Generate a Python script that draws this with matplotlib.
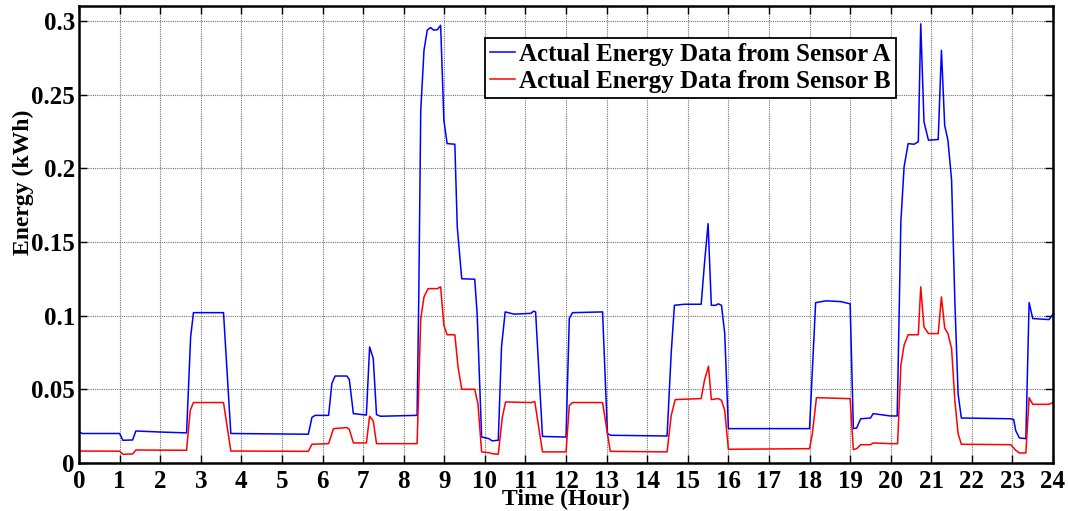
import matplotlib
matplotlib.use("Agg")
import matplotlib.pyplot as plt
import numpy as np

plt.rcParams['font.family'] = ['Liberation Serif', 'DejaVu Serif']
plt.rcParams['font.weight'] = 'bold'

# sensor A (blue), hour -> kWh
hours_a = [0, 0.08, 1.0, 1.08, 1.32, 1.4, 2.0, 2.65, 2.75, 2.82,
           3.56, 3.74, 5.65, 5.74, 5.82, 6.15, 6.23, 6.31, 6.6, 6.66,
           6.76, 7.08, 7.16, 7.25, 7.33, 7.43, 8.33, 8.37, 8.42, 8.5,
           8.58, 8.66, 8.74, 8.83, 8.91, 8.99, 9.07, 9.26, 9.32, 9.43,
           9.75, 9.81, 9.92, 10.1, 10.18, 10.33, 10.41, 10.5, 10.72, 11.13,
           11.2, 11.25, 11.42, 12.0, 12.08, 12.16, 12.9, 13.02, 13.1, 14.49,
           14.59, 14.67, 14.92, 15.33, 15.41, 15.5, 15.58, 15.69, 15.75, 15.83,
           15.91, 16.0, 18.0, 18.15, 18.4, 18.77, 19.0, 19.08, 19.16, 19.26,
           19.5, 19.57, 19.75, 19.99, 20.16, 20.25, 20.33, 20.43, 20.58, 20.68,
           20.74, 20.82, 20.93, 21.17, 21.25, 21.33, 21.41, 21.5, 21.58, 21.66,
           21.74, 22.96, 23.03, 23.08, 23.17, 23.33, 23.41, 23.5, 23.9, 24.0]
energy_a = [0.021, 0.020, 0.020, 0.0154, 0.0156, 0.0217, 0.0210, 0.0204, 0.0855, 0.102,
            0.102, 0.020, 0.0195, 0.031, 0.0323, 0.0323, 0.054, 0.059, 0.059, 0.0566,
            0.0335, 0.0325, 0.0787, 0.0708, 0.0328, 0.0317, 0.0323, 0.110, 0.239, 0.280,
            0.2937, 0.2955, 0.2937, 0.294, 0.297, 0.2326, 0.2167, 0.2163, 0.160, 0.125,
            0.1247, 0.101, 0.0176, 0.0165, 0.015, 0.0154, 0.0787, 0.1025, 0.101, 0.1015,
            0.103, 0.1025, 0.018, 0.0176, 0.098, 0.102, 0.1025, 0.020, 0.0188, 0.0183,
            0.074, 0.107, 0.1077, 0.1077, 0.135, 0.1624, 0.107, 0.107, 0.108, 0.107,
            0.088, 0.0233, 0.0233, 0.1088, 0.110, 0.1095, 0.108, 0.0233, 0.0237, 0.030,
            0.0305, 0.0335, 0.0328, 0.0319, 0.0319, 0.1636, 0.201, 0.2167, 0.2163, 0.218,
            0.298, 0.2315, 0.219, 0.2195, 0.280, 0.229, 0.219, 0.192, 0.110, 0.047,
            0.0305, 0.0300, 0.0295, 0.022, 0.017, 0.0165, 0.1088, 0.098, 0.0973, 0.101]

# sensor B (red)
hours_b = [0, 1.0, 1.08, 1.32, 1.4, 2.65, 2.74, 2.82, 3.56, 3.74,
           5.65, 5.74, 6.15, 6.27, 6.6, 6.66, 6.76, 7.08, 7.16, 7.25,
           7.33, 8.33, 8.42, 8.5, 8.6, 8.83, 8.91, 8.99, 9.07, 9.26,
           9.34, 9.43, 9.75, 9.83, 9.92, 10.1, 10.18, 10.33, 10.43, 10.51,
           11.13, 11.23, 11.42, 12.0, 12.08, 12.16, 12.9, 13.09, 14.49, 14.59,
           14.69, 15.33, 15.41, 15.51, 15.58, 15.75, 15.83, 15.91, 16.0, 18.0,
           18.07, 18.17, 18.93, 19.0, 19.08, 19.16, 19.26, 19.5, 19.57, 19.99,
           20.17, 20.25, 20.33, 20.43, 20.68, 20.74, 20.82, 20.93, 21.17, 21.25,
           21.33, 21.41, 21.5, 21.58, 21.66, 21.74, 22.96, 23.08, 23.17, 23.33,
           23.41, 23.5, 23.9, 24.0]
energy_b = [0.0081, 0.0080, 0.0059, 0.0061, 0.0088, 0.0086, 0.0357, 0.041, 0.041, 0.0081,
            0.0079, 0.0127, 0.0131, 0.0233, 0.024, 0.0228, 0.0136, 0.0136, 0.0317, 0.0285,
            0.0131, 0.0131, 0.098, 0.1127, 0.1183, 0.1183, 0.1195, 0.0934, 0.087, 0.087,
            0.065, 0.050, 0.050, 0.040, 0.0075, 0.0070, 0.0063, 0.0059, 0.031, 0.0414,
            0.041, 0.0416, 0.0075, 0.0075, 0.039, 0.041, 0.041, 0.0079, 0.0075, 0.032,
            0.043, 0.0437, 0.056, 0.0656, 0.043, 0.0437, 0.0425, 0.0357, 0.0093, 0.0097,
            0.020, 0.0443, 0.0437, 0.0437, 0.009, 0.0097, 0.0124, 0.0124, 0.0136, 0.0131,
            0.0131, 0.0663, 0.080, 0.087, 0.087, 0.1195, 0.0923, 0.0878, 0.0878, 0.1127,
            0.0916, 0.0878, 0.0776, 0.0425, 0.020, 0.0127, 0.0124, 0.0086, 0.0068, 0.0068,
            0.0443, 0.0398, 0.0398, 0.041]

x_ticks = np.arange(0, 25, 1)
y_ticks = [0, 0.05, 0.1, 0.15, 0.2, 0.25, 0.3]
y_tick_labels = ['0', '0.05', '0.1', '0.15', '0.2', '0.25', '0.3']

fig = plt.figure(figsize=(10.68, 5.11), dpi=100)
ax = fig.add_axes([0.074, 0.094, 0.912, 0.894])

ax.plot(hours_a, energy_a, color='#0000ff', lw=1.1, label='Actual Energy Data from Sensor A')
ax.plot(hours_b, energy_b, color='#ff0000', lw=1.1, label='Actual Energy Data from Sensor B')

ax.set_xlim(0, 24)
ax.set_ylim(0, 0.31)
ax.set_xticks(x_ticks)
ax.set_yticks(y_ticks)
ax.set_yticklabels(y_tick_labels)
ax.tick_params(direction='in', top=True, right=True, length=6, width=1,
               labelsize=18, pad=3)
ax.tick_params(axis='x', pad=5)
ax.grid(True, linestyle=(0, (1, 1)), color='0.45', lw=0.8)
for s in ax.spines.values():
    s.set_linewidth(1.8)

ax.set_xlabel('Time (Hour)', fontsize=17, fontweight='bold', va='bottom')
ax.xaxis.set_label_coords(0.5, -0.104)
ax.set_ylabel('Energy (kWh)', fontsize=17, fontweight='bold')
ax.yaxis.set_label_coords(-0.046, 0.615)

leg = ax.legend(loc='upper left', bbox_to_anchor=(0.417, 0.930), borderaxespad=0,
                fancybox=False, framealpha=1, edgecolor='black', fontsize=18,
                handlelength=1.0, handletextpad=0.15, borderpad=0.2, labelspacing=0.15)
leg.get_frame().set_linewidth(1.3)

fig.savefig('out.png', dpi=100)
